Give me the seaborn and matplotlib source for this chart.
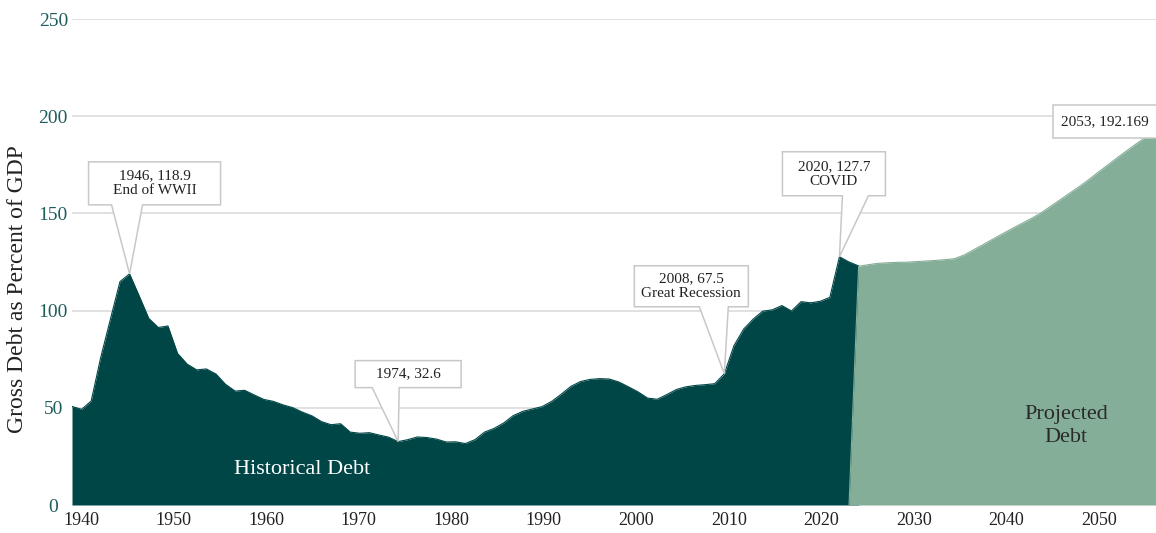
import matplotlib
matplotlib.use("Agg")
import matplotlib.pyplot as plt
import seaborn as sns
import pandas as pd
from matplotlib.patches import Polygon
from matplotlib.transforms import IdentityTransform

# ---------------- data ----------------
hist_years = list(range(1940, 2023))
hist_debt = [
    50.7, 49.2, 53.5, 76.0, 95.5, 114.9, 118.9, 107.6, 96.0, 91.3,      # 1940s
    92.1, 78.0, 72.5, 69.5, 70.0, 67.4, 62.1, 58.6, 59.0, 56.6,         # 1950s
    54.3, 53.3, 51.5, 50.1, 47.8, 45.9, 42.9, 41.3, 41.8, 37.5,         # 1960s
    36.9, 37.2, 36.0, 34.9, 32.6, 33.6, 35.0, 34.7, 33.9, 32.4,         # 1970s
    32.5, 31.6, 33.6, 37.5, 39.4, 42.2, 46.0, 48.2, 49.4, 50.6,         # 1980s
    53.3, 57.0, 61.0, 63.5, 64.6, 65.0, 64.8, 63.3, 60.8, 58.2,         # 1990s
    55.0, 54.4, 56.8, 59.4, 60.8, 61.5, 61.9, 62.4, 67.5, 81.9,         # 2000s
    90.4, 95.6, 99.7, 100.4, 102.6, 99.8, 104.6, 104.0, 104.8, 106.8,   # 2010s
    127.7, 125.0, 123.0,                                               # 2020-2022
]
# projected series starts from the baseline in 2021
proj_years = list(range(2021, 2054))
proj_debt = [
    0.0, 122.8, 123.6, 124.3, 124.6, 124.8, 124.9, 125.2, 125.5, 125.8,
    126.2, 126.7, 128.6, 131.3, 134.0, 136.8, 139.5, 142.2, 144.8, 147.4,
    150.2, 153.6, 157.0, 160.4, 163.8, 167.4, 171.3, 175.0, 178.8, 182.4,
    186.0, 189.4, 192.169,
]
y_ticks = [0, 50, 100, 150, 200, 250]
x_tick_labels = [1940, 1950, 1960, 1970, 1980, 1990, 2000, 2010, 2020, 2030, 2040, 2050]

callout_years = [1946, 1974, 2008, 2020, 2053]
callout_values = [118.9, 32.6, 67.5, 127.7, 192.169]
callout_texts = ["1946, 118.9\nEnd of WWII", "1974, 32.6", "2008, 67.5\nGreat Recession",
                 "2020, 127.7\nCOVID", "2053, 192.169"]

# ---------------- style ----------------
DARK = "#014646"
GREEN = "#84AE97"
GRID = "#dcdcdc"
TEXT = "#222222"
TICKC = "#1f5c5c"
SERIF = ["Liberation Serif", "DejaVu Serif"]

sns.set_theme(style="white")
plt.rcParams["font.family"] = SERIF

W, H = 1156, 533
fig = plt.figure(figsize=(W / 100, H / 100), dpi=100)
ax = fig.add_axes([72 / W, 28 / H, 1084 / W, 486 / H])

hist = pd.DataFrame({"year": hist_years, "debt": hist_debt})
proj = pd.DataFrame({"year": proj_years, "debt": proj_debt})

ax.fill_between(hist["year"], 0, hist["debt"], color=DARK, linewidth=0, zorder=2)
sns.lineplot(data=hist, x="year", y="debt", ax=ax, color=DARK, linewidth=0.8, zorder=2)
ax.fill_between(proj["year"], 0, proj["debt"], color=GREEN, linewidth=0, zorder=3)
sns.lineplot(data=proj, x="year", y="debt", ax=ax, color=GREEN, linewidth=0.8, zorder=3)

ax.set_xlim(1940, 2053)
ax.set_ylim(0, 250)
ax.set_yticks(y_ticks)
ax.set_yticklabels([str(v) for v in y_ticks])
ax.yaxis.grid(True, color=GRID, linewidth=1.2, zorder=0)
ax.set_axisbelow(True)
ax.set_xticks([])
ax.set_xlabel("")
ax.set_ylabel("")
for s in ax.spines.values():
    s.set_visible(False)
ax.tick_params(axis="y", length=0, pad=13.5, labelsize=14, labelcolor=TICKC)
for lbl in ax.get_yticklabels():
    lbl.set_ha("center")

# tick label axis (labels sit on their own slightly different scale)
ax2 = ax.twiny()
ax2.set_xlim(1939.0, 2056.2)
ax2.xaxis.set_ticks_position("bottom")
ax2.set_xticks(x_tick_labels)
ax2.set_xticklabels([str(v) for v in x_tick_labels])
ax2.tick_params(axis="x", length=0, pad=5, labelsize=13, labelcolor=TEXT)
for s in ax2.spines.values():
    s.set_visible(False)
ax2.patch.set_visible(False)

fig.text(18 / W, 1 - 289 / H, "Gross Debt as Percent of GDP", rotation=90,
         ha="center", va="center", fontsize=17, color=TEXT)

ax.text(1964.0, 18.5, "Historical Debt", color="white", fontsize=16,
        ha="center", va="center", zorder=5)
ax.text(2043.6, 40.5, "Projected\nDebt", color="#2a2a2a", fontsize=16,
        ha="center", va="center", linespacing=1.3, zorder=5)

# ---------------- callouts (offsets in pixels, y downwards) ----------------
# (left, right, top, bottom, base1, base2, text x shift)
callout_layout = [
    (-41, 91, -112, -69, -18, 13, 0),
    (-43, 63, -81, -54, -26, 1, 0),
    (-90, 24, -108, -67, -25, 4, 0),
    (-57, 46, -105, -61, 3, 29, 0),
    (-103, 14, -26, 7, None, None, -7),
]
ident = IdentityTransform()
for yr, val, txt, lay in zip(callout_years, callout_values, callout_texts, callout_layout):
    tx, ty = ax.transData.transform((yr, val))
    L, R, T, B, b1, b2, tdx = lay
    P = lambda dx, dy: (tx + dx, ty - dy)
    if b1 is None:
        pts = [P(L, T), P(R, T), P(R, B), P(L, B)]
    else:
        pts = [P(L, T), P(R, T), P(R, B), P(b2, B), P(0, 0), P(b1, B), P(L, B)]
    poly = Polygon(pts, closed=True, facecolor="white", edgecolor="#c8c8c8",
                   linewidth=1.1, transform=ident, zorder=6)
    fig.add_artist(poly)
    cx, cy = P((L + R) / 2 + tdx, (T + B) / 2)
    fig.text(cx, cy, txt, transform=ident, ha="center", va="center",
             fontsize=11, color=TEXT, linespacing=1.2, zorder=7)

fig.savefig("out.png", dpi=100)
